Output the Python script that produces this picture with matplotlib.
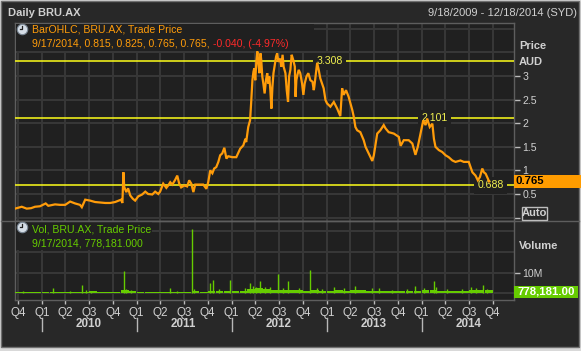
import matplotlib
matplotlib.use('Agg')
import matplotlib.pyplot as plt
import matplotlib.dates as mdates
import matplotlib.transforms as mtransforms
from matplotlib.patches import Rectangle
from matplotlib.lines import Line2D
import numpy as np
import pandas as pd

plt.rcParams['font.family'] = ['Liberation Sans', 'DejaVu Sans']

# ---------------- data ----------------
price_dates = [
    "2009-09-20", "2009-10-16", "2009-11-04", "2009-11-21", "2009-12-06", "2009-12-25",
    "2010-01-16", "2010-01-26", "2010-02-21", "2010-03-12", "2010-04-01", "2010-04-20", "2010-05-09",
    "2010-05-28", "2010-06-04", "2010-06-17", "2010-07-06", "2010-07-25", "2010-08-13", "2010-09-02",
    "2010-09-21", "2010-10-10", "2010-11-02", "2010-11-07", "2010-11-11", "2010-11-14", "2010-11-22",
    "2010-11-29", "2010-12-07", "2010-12-17", "2010-12-26",
    "2011-01-07", "2011-01-22", "2011-02-03", "2011-02-14", "2011-03-02", "2011-03-13", "2011-03-25",
    "2011-04-01", "2011-04-13", "2011-04-25", "2011-05-02", "2011-05-10", "2011-05-18", "2011-05-29",
    "2011-06-06", "2011-06-13", "2011-06-21", "2011-07-03", "2011-07-14", "2011-07-22", "2011-07-30",
    "2011-08-07", "2011-08-14", "2011-08-30", "2011-09-14", "2011-09-26", "2011-10-03", "2011-10-11",
    "2011-10-19", "2011-10-26", "2011-11-03", "2011-11-11", "2011-11-18", "2011-11-26", "2011-12-04",
    "2011-12-12", "2011-12-19",
    "2012-01-04", "2012-01-19", "2012-02-03", "2012-02-15", "2012-02-23", "2012-02-26", "2012-03-05",
    "2012-03-12", "2012-03-16", "2012-03-21", "2012-03-25", "2012-03-28", "2012-04-01", "2012-04-05",
    "2012-04-09", "2012-04-13", "2012-04-17", "2012-04-21", "2012-04-24", "2012-04-28", "2012-05-02",
    "2012-05-07", "2012-05-12", "2012-05-17", "2012-05-21", "2012-05-25", "2012-05-29", "2012-06-02",
    "2012-06-06", "2012-06-10", "2012-06-16", "2012-06-20", "2012-06-24", "2012-06-29", "2012-07-06",
    "2012-07-10", "2012-07-15", "2012-07-19", "2012-07-26", "2012-07-31", "2012-08-05", "2012-08-09",
    "2012-08-14", "2012-08-19", "2012-08-25", "2012-08-31", "2012-09-03", "2012-09-06", "2012-09-10",
    "2012-09-15", "2012-09-21", "2012-09-28", "2012-10-03", "2012-10-08", "2012-10-15", "2012-10-22",
    "2012-10-30", "2012-11-07", "2012-11-12", "2012-11-14", "2012-11-25", "2012-12-01", "2012-12-07",
    "2012-12-20", "2012-12-27",
    "2013-01-02", "2013-01-15", "2013-01-28", "2013-02-10", "2013-02-22", "2013-03-01", "2013-03-07",
    "2013-03-16", "2013-03-26", "2013-04-02", "2013-04-09", "2013-04-15", "2013-04-21", "2013-04-28",
    "2013-05-10", "2013-05-23", "2013-05-30", "2013-06-11", "2013-06-25", "2013-07-01", "2013-07-14",
    "2013-07-26", "2013-08-08", "2013-08-15", "2013-08-27", "2013-09-16", "2013-10-05", "2013-10-12",
    "2013-10-24", "2013-11-12", "2013-11-26", "2013-12-08", "2013-12-17", "2013-12-30",
    "2014-01-07", "2014-01-16", "2014-01-22", "2014-02-01", "2014-02-11", "2014-02-17", "2014-02-23",
    "2014-03-08", "2014-03-21", "2014-04-03", "2014-04-15", "2014-04-29", "2014-05-11", "2014-05-30",
    "2014-06-12", "2014-07-01", "2014-07-08", "2014-07-15", "2014-07-27", "2014-08-05", "2014-08-13",
    "2014-08-22", "2014-08-28", "2014-09-04", "2014-09-13", "2014-09-17",
]
price_values = [
    0.19, 0.23, 0.19, 0.20, 0.23, 0.24,
    0.30, 0.25, 0.28, 0.27, 0.27, 0.34, 0.30, 0.27, 0.22, 0.38, 0.36, 0.33, 0.32, 0.31,
    0.31, 0.33, 0.38, 0.31, 0.96, 0.65, 0.54, 0.62, 0.47, 0.40, 0.36,
    0.45, 0.49, 0.55, 0.50, 0.49, 0.55, 0.50, 0.55, 0.72, 0.63,
    0.68, 0.75, 0.70, 0.80, 0.89, 0.73, 0.64, 0.68, 0.66, 0.79,
    0.72, 0.54, 0.70, 0.70, 0.70, 0.61, 0.75, 1.00, 0.94, 1.04,
    1.07, 1.18, 1.32, 1.36, 1.48, 1.25, 1.30,
    1.28, 1.28, 1.46, 1.53, 1.67, 1.60, 1.92, 2.06, 2.42, 2.91,
    3.09, 3.16, 2.91, 3.30, 3.52, 3.27, 3.06, 3.48, 3.34, 2.99,
    2.84, 2.63, 2.91, 3.06, 2.84, 2.99, 2.70, 2.31, 2.77, 3.06,
    3.27, 3.41, 3.48, 3.30, 3.37, 3.20, 3.45, 3.20, 3.06, 2.70,
    2.45, 2.99, 3.13, 3.45, 3.34, 3.20, 2.56, 2.91, 3.02, 3.13,
    3.06, 2.84, 2.60, 2.84, 2.99, 3.06, 2.91, 2.88, 2.70, 2.77,
    3.28, 3.13, 2.95, 2.74, 2.49,
    2.42, 2.35, 2.45, 2.31, 2.15, 2.74, 2.60, 2.70, 2.56, 2.42,
    2.28, 2.13, 1.92, 1.85, 1.81, 1.64, 1.50, 1.36, 1.20, 1.32,
    1.78, 1.85, 1.96, 1.89, 1.81, 1.78, 1.71, 1.52, 1.64, 1.64,
    1.57, 1.33, 1.50, 1.85,
    2.06, 1.96, 2.10, 1.92, 1.99, 1.67, 1.50, 1.43, 1.39, 1.32,
    1.28, 1.21, 1.18, 1.21, 1.18, 1.18, 1.07, 0.96, 0.89, 0.79,
    0.86, 1.04, 0.96, 0.93, 0.82, 0.765,
]

# monthly base volume (millions of shares)
vol_months = pd.date_range("2009-09-01", "2014-09-01", freq="MS").strftime("%Y-%m").tolist()
vol_base_m = [
    0.6, 0.7, 0.5, 0.6,
    0.8, 0.6, 0.5, 0.7, 0.6, 0.8, 0.9, 0.5, 0.4, 0.5, 1.5, 0.9,
    0.6, 0.5, 0.4, 0.6, 0.8, 0.7, 0.6, 0.9, 0.7, 1.2, 1.0, 0.9,
    0.9, 1.3, 2.0, 2.4, 2.2, 1.8, 1.6, 1.5, 1.4, 1.2, 1.6, 1.3,
    1.2, 1.4, 1.3, 1.6, 1.4, 1.2, 1.3, 1.1, 1.0, 1.0, 1.1, 1.2,
    1.4, 1.5, 1.2, 1.1, 1.2, 1.3, 1.4, 1.5, 1.4,
]
# individual high-volume days (millions)
spike_dates = [
    "2009-10-20", "2010-02-14", "2010-04-20", "2010-06-03", "2010-06-20", "2010-07-10",
    "2010-11-12", "2010-11-20", "2010-12-10", "2011-05-10", "2011-06-06", "2011-08-01",
    "2011-08-08", "2011-10-08", "2011-10-20", "2011-11-15", "2011-12-26", "2012-02-20",
    "2012-03-13", "2012-03-25", "2012-04-05", "2012-04-18", "2012-05-10", "2012-05-28",
    "2012-06-28", "2012-07-15", "2012-08-04", "2012-09-15", "2012-10-27", "2012-11-25",
    "2012-12-15", "2013-01-27", "2013-03-10", "2013-04-19", "2013-06-25", "2013-07-19",
    "2013-09-10", "2013-11-05", "2013-12-05", "2014-01-10", "2014-02-17", "2014-02-25",
    "2014-04-10", "2014-06-05", "2014-07-11", "2014-07-30", "2014-08-24", "2014-09-10",
]
spike_values_m = [
    1.2, 2.4, 1.3, 4.0, 1.8, 1.2,
    10.8, 2.0, 1.5, 2.4, 1.3, 31.2,
    2.0, 5.2, 6.5, 2.0, 6.5, 2.5,
    5.2, 3.5, 3.0, 6.1, 3.2, 2.8,
    9.4, 2.4, 6.1, 2.6, 11.3, 2.5,
    2.2, 3.2, 2.4, 3.5, 2.3, 2.5,
    1.8, 1.9, 3.5, 2.6, 6.1, 2.8,
    2.0, 2.2, 3.2, 2.5, 4.0, 2.2,
]

ref_levels = [3.308, 2.101, 0.688]
ref_label_dates = ["2013-01-12", "2014-02-19", "2014-09-22"]
price_ticks = [0, 0.5, 1, 1.5, 2, 2.5, 3]
price_tick_labels = ["", "0.5", "1", "1.5", "2", "2.5", "3"]
vol_ticks = [0, 10e6]
vol_tick_labels = ["", "10M"]
years = [2010, 2011, 2012, 2013, 2014]

# ---------------- layout helpers ----------------
W, H = 581, 351
def fx(x): return x / W
def fy(y): return 1 - y / H
def dn(s): return mdates.date2num(np.datetime64(s))

BG_OUT = '#282828'
BG_AX = '#202020'
GRID = '#383838'
SPINE = '#5e5e5e'
TXT = '#d0d0d0'
ORANGE = '#ff9c0a'
GREEN = '#66cc00'
YELLOW = '#ffff1a'
FS = 7.6

fig = plt.figure(figsize=(W / 100, H / 100), dpi=100, facecolor='#d9d9d9')
fig.patches.append(Rectangle((fx(1), fy(347)), fx(579) - fx(1), fy(1) - fy(347),
                             transform=fig.transFigure, fc=BG_OUT, ec='#707070', lw=1, zorder=-10))

ax1 = fig.add_axes([fx(15), fy(221), fx(514) - fx(15), fy(23) - fy(221)], facecolor=BG_AX)
ax2 = fig.add_axes([fx(15), fy(300), fx(514) - fx(15), fy(221) - fy(300)], facecolor=BG_AX, sharex=ax1)

xmin, xmax = dn("2009-09-20"), dn("2014-12-22")
quarters = pd.date_range("2009-10-01", "2014-10-01", freq="QS")
qx = [mdates.date2num(q.to_pydatetime()) for q in quarters]
qlab = ["Q%d" % q.quarter for q in quarters]

for ax in (ax1, ax2):
    for s in ax.spines.values():
        s.set_color(SPINE)
        s.set_linewidth(1)
    for x in qx:
        ax.axvline(x, color=GRID, lw=1.4, zorder=0)

for v in np.arange(0, 4.01, 0.5):
    ax1.axhline(v, color=GRID, lw=1.4, zorder=0)
for v in [0, 10e6, 20e6, 30e6]:
    ax2.axhline(v, color=GRID, lw=1.4, zorder=0)

# price
px = np.array(price_dates, dtype='datetime64[D]')
ax1.plot(px, price_values, color=ORANGE, lw=1.6, zorder=5, solid_joinstyle='miter')
for lvl, ld in zip(ref_levels, ref_label_dates):
    ax1.axhline(lvl, color=YELLOW, lw=1.1, zorder=3)
    ax1.text(dn(ld), lvl, "%.3f" % lvl, ha='center', va='center', color='#f0f050', fontsize=FS,
             zorder=4, bbox=dict(fc=BG_AX, ec='none', pad=2.5))
ax1.set_xlim(xmin, xmax)
ax1.set_ylim(-0.072, 4.123)
ax1.yaxis.tick_right()
ax1.set_yticks(price_ticks)
ax1.set_yticklabels(price_tick_labels)
ax1.tick_params(axis='y', length=4, width=1, color='#bcbcbc', labelcolor=TXT, labelsize=FS, pad=2)
ax1.tick_params(axis='x', length=0, labelbottom=False)

# volume
mx = np.array([dn(m + "-01") for m in vol_months]) + 15
ax2.bar(mx, np.array(vol_base_m) * 1e6, width=29, color=GREEN, lw=0, zorder=3)
sx = np.array(spike_dates, dtype='datetime64[D]')
ax2.vlines(sx, 0, np.array(spike_values_m) * 1e6, color=GREEN, lw=1.0, zorder=3)
ax2.set_ylim(-3.3e6, 35.1e6)
ax2.set_xlim(xmin, xmax)
ax2.yaxis.tick_right()
ax2.set_yticks(vol_ticks)
ax2.set_yticklabels(vol_tick_labels)
ax2.tick_params(axis='y', length=4, width=1, color='#bcbcbc', labelcolor=TXT, labelsize=FS, pad=2)
ax2.set_xticks(qx)
ax2.set_xticklabels(qlab)
ax2.tick_params(axis='x', length=3, width=1, color='#bcbcbc', labelcolor=TXT, labelsize=8.4, pad=2)

# year labels and separators
bt = mtransforms.blended_transform_factory(ax2.transData, fig.transFigure)
for y in years:
    x0 = dn("%d-01-01" % y)
    xm = dn("%d-07-01" % y)
    fig.add_artist(Line2D([x0, x0], [fy(318), fy(331)], transform=bt, color='#b8b8b8', lw=1))
    fig.text(xm, fy(324), str(y), transform=bt, ha='center', va='center', color=TXT,
             fontsize=8.4, fontweight='bold')

# separator across full width
fig.add_artist(Line2D([fx(1), fx(579)], [fy(221), fy(221)], transform=fig.transFigure, color=SPINE, lw=1))

# header
fig.text(fx(8), fy(13), "Daily BRU.AX", color=TXT, fontsize=8, fontweight='bold', va='center', ha='left')
fig.text(fx(577), fy(13), "9/18/2009 - 12/18/2014 (SYD)", color=TXT, fontsize=8, va='center', ha='right')

# legend backgrounds
fig.patches.append(Rectangle((fx(16), fy(51)), fx(314) - fx(16), fy(24) - fy(51),
                             transform=fig.transFigure, fc=BG_AX, ec='none', zorder=1))
fig.patches.append(Rectangle((fx(16), fy(250)), fx(152) - fx(16), fy(222) - fy(250),
                             transform=fig.transFigure, fc=BG_AX, ec='none', zorder=1))

def clock(cx, cy):
    fig.add_artist(Line2D([fx(cx)], [fy(cy)], transform=fig.transFigure, marker='o', markersize=7.5,
                          markerfacecolor='#d5dde6', markeredgecolor='#7a8794', markeredgewidth=0.8,
                          zorder=6))
    fig.add_artist(Line2D([fx(cx), fx(cx), fx(cx - 2.5)], [fy(cy - 3), fy(cy), fy(cy)],
                          transform=fig.transFigure, color='#222222', lw=0.9, zorder=7))

clock(22, 29)
clock(22, 227)

fig.text(fx(32), fy(30), "BarOHLC, BRU.AX, Trade Price", color=ORANGE, fontsize=FS, va='center', zorder=8)
t = fig.text(fx(32), fy(44), "9/17/2014, 0.815, 0.825, 0.765, 0.765,", color=ORANGE, fontsize=FS,
             va='center', zorder=8)
r = fig.canvas.get_renderer()
bb = t.get_window_extent(r)
fig.text(bb.x1 / fig.bbox.width + fx(3), fy(44), "-0.040, (-4.97%)", color='#ff2a2a', fontsize=FS,
         va='center', zorder=8)

fig.text(fx(32), fy(229), "Vol, BRU.AX, Trade Price", color=GREEN, fontsize=FS, va='center', zorder=8)
fig.text(fx(32), fy(243), "9/17/2014, 778,181.000", color=GREEN, fontsize=FS, va='center', zorder=8)

# right side labels
fig.text(fx(519), fy(46), "Price", color=TXT, fontsize=8, fontweight='bold', va='center')
fig.text(fx(519), fy(62), "AUD", color=TXT, fontsize=8, fontweight='bold', va='center')
fig.text(fx(519), fy(246), "Volume", color=TXT, fontsize=8, fontweight='bold', va='center')

# current price box
pt = mtransforms.blended_transform_factory(fig.transFigure, ax1.transData)
fig.add_artist(Rectangle((fx(514), 0.765 - 0.14), fx(581) - fx(514), 0.27, transform=pt,
                         fc='#ff9c00', ec='none', zorder=9))
fig.text(fx(516), 0.765, "0.765", transform=pt, color='#000000', fontsize=8.2, fontweight='bold',
         va='center', zorder=10)

# auto box
fig.add_artist(Rectangle((fx(522), fy(220)), fx(547) - fx(522), fy(207) - fy(220),
                         transform=fig.transFigure, fc='none', ec='#bdbdbd', lw=1, zorder=9))
fig.text(fx(534.5), fy(213.5), "Auto", color=TXT, fontsize=8, fontweight='bold', va='center',
         ha='center', zorder=10)

# current volume box
fig.add_artist(Rectangle((fx(514), fy(298)), fx(578) - fx(514), fy(286) - fy(298),
                         transform=fig.transFigure, fc=GREEN, ec='none', zorder=9))
fig.text(fx(546), fy(292), "778,181.00", color='#ffffff', fontsize=8.2, fontweight='bold',
         va='center', ha='center', zorder=10)

fig.savefig("out.png", dpi=100, facecolor=fig.get_facecolor())
